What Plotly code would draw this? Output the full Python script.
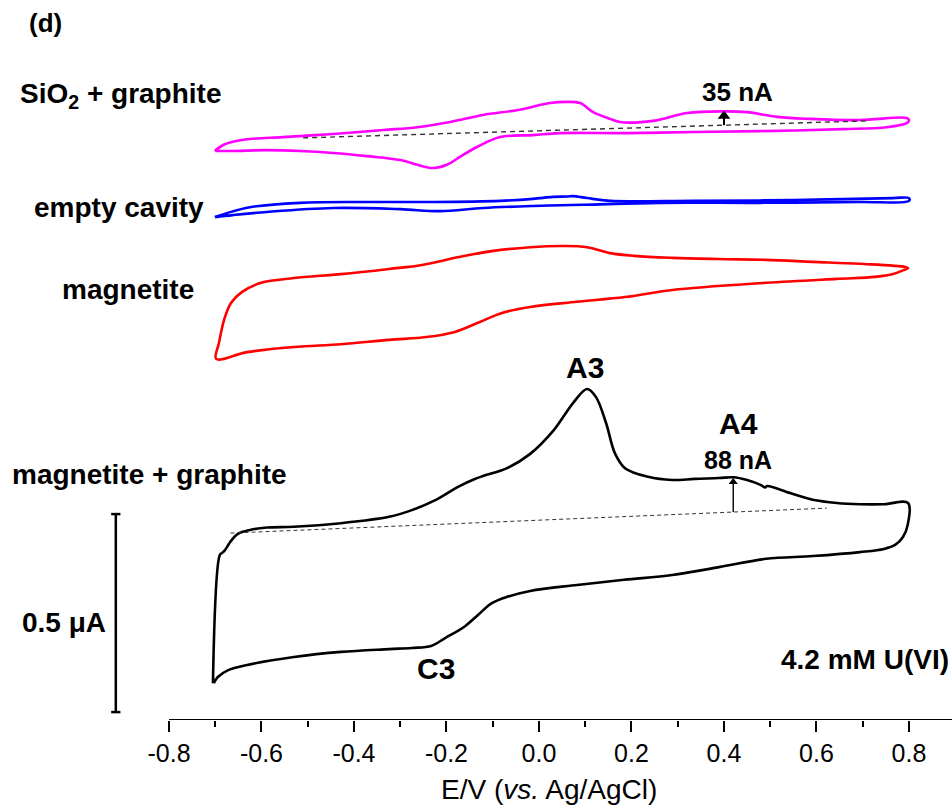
import plotly.graph_objects as go

# Cyclic voltammograms, 4.2 mM U(VI); potentials in V vs Ag/AgCl, currents in uA
# Each loop: forward sweep -0.7 -> 0.8 V, then reverse sweep back to -0.7 V

E_mag_graph = [-0.705, -0.690, -0.685, -0.679, -0.668, -0.651, -0.625, -0.588, -0.530, -0.428,
               -0.324, -0.275, -0.223, -0.173, -0.140, -0.121, -0.069, -0.019, 0.032, 0.074,
               0.104, 0.123, 0.145, 0.164, 0.186, 0.236, 0.288, 0.337, 0.389, 0.420,
               0.450, 0.480, 0.489, 0.493, 0.543, 0.592, 0.644, 0.694, 0.746, 0.798,
               0.797, 0.787, 0.770, 0.746, 0.694, 0.592, 0.491, 0.389, 0.288, 0.184,
               0.082, -0.019, -0.069, -0.102, -0.132, -0.162, -0.203, -0.233, -0.275, -0.324,
               -0.428, -0.530, -0.631, -0.672, -0.695, -0.703]
I_mag_graph = [-0.357, -0.033, -0.028, -0.021, -0.001, 0.020, 0.030, 0.036, 0.038, 0.047,
               0.063, 0.080, 0.106, 0.140, 0.158, 0.166, 0.186, 0.222, 0.282, 0.351,
               0.386, 0.366, 0.300, 0.224, 0.186, 0.164, 0.156, 0.159, 0.161, 0.163,
               0.156, 0.143, 0.137, 0.141, 0.123, 0.106, 0.098, 0.095, 0.095, 0.098,
               0.042, 0.012, -0.008, -0.018, -0.026, -0.036, -0.043, -0.064, -0.084, -0.096,
               -0.109, -0.124, -0.139, -0.155, -0.185, -0.215, -0.243, -0.263, -0.268, -0.271,
               -0.278, -0.291, -0.311, -0.324, -0.342, -0.357]

E_magnetite = [-0.698, -0.692, -0.681, -0.666, -0.642, -0.601, -0.530, -0.428, -0.324, -0.253,
               -0.173, -0.102, -0.019, 0.052, 0.104, 0.154, 0.205, 0.288, 0.389, 0.491,
               0.592, 0.694, 0.792, 0.798,
               0.788, 0.766, 0.727, 0.644, 0.491, 0.288, 0.186, 0.082, -0.019, -0.080,
               -0.132, -0.182, -0.244, -0.324, -0.428, -0.530, -0.631, -0.698]
I_magnetite = [-0.038, 0.002, 0.060, 0.103, 0.131, 0.154, 0.166, 0.176, 0.189, 0.199,
               0.219, 0.234, 0.244, 0.247, 0.244, 0.229, 0.222, 0.217, 0.214, 0.212,
               0.207, 0.202, 0.194, 0.191,
               0.186, 0.176, 0.169, 0.164, 0.154, 0.136, 0.118, 0.106, 0.093, 0.078,
               0.053, 0.030, 0.017, 0.010, -0.001, -0.008, -0.021, -0.038]

E_empty = [-0.701, -0.675, -0.625, -0.517, -0.372, -0.229, -0.084, -0.013, 0.030, 0.061,
           0.074, 0.104, 0.154, 0.333, 0.549, 0.765, 0.800,
           0.800, 0.694, 0.478, 0.262, 0.095, -0.013, -0.121, -0.214, -0.300,
           -0.445, -0.588, -0.662, -0.700]
I_empty = [-0.030, -0.020, -0.005, 0.006, 0.008, 0.008, 0.011, 0.016, 0.021, 0.022,
           0.023, 0.018, 0.011, 0.011, 0.013, 0.018, 0.018,
           0.011, 0.008, 0.006, 0.006, 0.001, -0.002, -0.007, -0.015, -0.010,
           -0.007, -0.017, -0.025, -0.030]

E_sio2 = [-0.701, -0.683, -0.662, -0.625, -0.554, -0.445, -0.337, -0.263, -0.192, -0.121,
          -0.048, 0.024, 0.061, 0.089, 0.117, 0.154, 0.175, 0.247, 0.320, 0.400,
          0.450, 0.515, 0.586, 0.694, 0.796, 0.800,
          0.796, 0.752, 0.657, 0.478, 0.333, 0.190, 0.045, -0.013, -0.084, -0.134,
          -0.171, -0.199, -0.229, -0.263, -0.300, -0.372, -0.445, -0.517, -0.588, -0.662, -0.700]
I_sio2 = [-0.013, 0.002, 0.010, 0.017, 0.022, 0.030, 0.040, 0.047, 0.060, 0.078,
          0.090, 0.108, 0.111, 0.108, 0.085, 0.068, 0.060, 0.063, 0.083, 0.087,
          0.085, 0.073, 0.068, 0.065, 0.070, 0.065,
          0.058, 0.047, 0.042, 0.037, 0.035, 0.032, 0.032, 0.027, 0.022, -0.003,
          -0.028, -0.048, -0.056, -0.048, -0.036, -0.026, -0.018, -0.013, -0.011, -0.013, -0.013]

base_mag_graph_E = [-0.667, 0.622]
base_mag_graph_I = [0.022, 0.085]
base_sio2_E = [-0.510, 0.710]
base_sio2_I = [0.020, 0.063]
peak_mag_graph_E, peak_mag_graph_nA = 0.420, 88
peak_sio2_E, peak_sio2_nA = 0.400, 35

tick_vals = [-0.8, -0.6, -0.4, -0.2, 0.0, 0.2, 0.4, 0.6, 0.8]
tick_text = ["-0.8", "-0.6", "-0.4", "-0.2", "0.0", "0.2", "0.4", "0.6", "0.8"]
minor_vals = [-0.7, -0.5, -0.3, -0.1, 0.1, 0.3, 0.5, 0.7, 0.9]

# vertical stacking of the loops (uA)
OFF_MAG_GRAPH = 0.45
OFF_MAGNETITE = 0.95
OFF_EMPTY = 1.30
OFF_SIO2 = 1.45

FONT = "Arial, Liberation Sans, sans-serif"
X_RANGE = [-1.1654, 0.8930]
Y_RANGE = [0.0, 1.8182]


def shifted(values, off):
    return [v + off for v in values]


def base_at(E_pts, I_pts, e):
    return I_pts[0] + (I_pts[1] - I_pts[0]) * (e - E_pts[0]) / (E_pts[1] - E_pts[0])


fig = go.Figure()

loops = [
    (E_sio2, I_sio2, OFF_SIO2, "#FF00FF"),
    (E_empty, I_empty, OFF_EMPTY, "#0000FF"),
    (E_magnetite, I_magnetite, OFF_MAGNETITE, "#FF0000"),
    (E_mag_graph, I_mag_graph, OFF_MAG_GRAPH, "#000000"),
]
for E, I, off, col in loops:
    fig.add_trace(go.Scatter(
        x=E, y=shifted(I, off), mode="lines",
        line=dict(color=col, width=2.6, shape="spline", smoothing=1.0),
        showlegend=False, hoverinfo="skip"))

# dashed baselines
fig.add_trace(go.Scatter(
    x=base_sio2_E, y=shifted(base_sio2_I, OFF_SIO2), mode="lines",
    line=dict(color="#333333", width=1.4, dash="5px,4px"),
    showlegend=False, hoverinfo="skip"))
fig.add_trace(go.Scatter(
    x=base_mag_graph_E, y=shifted(base_mag_graph_I, OFF_MAG_GRAPH), mode="lines",
    line=dict(color="#333333", width=1.0, dash="4px,3px"),
    showlegend=False, hoverinfo="skip"))


# peak-height arrows: from the baseline up by the stated peak current
def peak_arrow(E_pts, I_pts, off, e, nA, lw, head):
    b = base_at(E_pts, I_pts, e) + off
    top = b + nA / 1000.0
    fig.add_trace(go.Scatter(
        x=[e, e], y=[b, top - 0.012], mode="lines",
        line=dict(color="black", width=lw),
        showlegend=False, hoverinfo="skip"))
    fig.add_trace(go.Scatter(
        x=[e], y=[top - 0.012], mode="markers",
        marker=dict(symbol="triangle-up", size=head, color="black", line=dict(width=0)),
        showlegend=False, hoverinfo="skip"))


peak_arrow(base_mag_graph_E, base_mag_graph_I, OFF_MAG_GRAPH, peak_mag_graph_E, peak_mag_graph_nA, 1.4, 8)
peak_arrow(base_sio2_E, base_sio2_I, OFF_SIO2, peak_sio2_E, peak_sio2_nA, 2.0, 11)

shapes = []
# x axis line
shapes.append(dict(type="line", xref="x", yref="y", x0=-0.8, x1=X_RANGE[1], y0=0, y1=0,
                   line=dict(color="black", width=2)))
# 0.5 uA scale bar
sb_x, sb_y0, sb_len = -0.915, 0.020, 0.5
shapes.append(dict(type="line", xref="x", yref="y", x0=sb_x, x1=sb_x, y0=sb_y0, y1=sb_y0 + sb_len,
                   line=dict(color="black", width=2.5)))
for yy in (sb_y0, sb_y0 + sb_len):
    shapes.append(dict(type="line", xref="x", yref="y", x0=sb_x - 0.010, x1=sb_x + 0.010, y0=yy, y1=yy,
                       line=dict(color="black", width=2.5)))

annotations = []


def label(text, x, y, size=28, bold=True, xanchor="center", yref="y"):
    t = f"<b>{text}</b>" if bold else text
    annotations.append(dict(x=x, y=y, xref="x", yref=yref, text=t, showarrow=False,
                            xanchor=xanchor, yanchor="middle",
                            font=dict(family=FONT, size=size, color="black")))


label("(d)", -1.068, 1.760, size=26)
label("SiO<sub>2</sub> + graphite", -0.903, 1.576)
label("empty cavity", -0.909, 1.295)
label("magnetite", -0.889, 1.086)
label("magnetite + graphite", -0.843, 0.619)
label("0.5 μA", -1.027, 0.245)
label("A3", 0.099, 0.891, size=30)
label("A4", 0.432, 0.750, size=30)
label(f"{peak_mag_graph_nA} nA", 0.430, 0.657, size=25)
label(f"{peak_sio2_nA} nA", 0.430, 1.586, size=26)
label("C3", -0.223, 0.131, size=30)
label("4.2 mM U(VI)", 0.519, 0.152, size=28, xanchor="left")
# axis title, placed below the plotting area
label("E/V (<i>vs.</i> Ag/AgCl)", 0.022, -0.097, size=28, bold=False, yref="paper")

fig.update_layout(
    width=952, height=809,
    margin=dict(l=0, r=0, t=0, b=89, pad=0),
    paper_bgcolor="white", plot_bgcolor="white",
    showlegend=False,
    shapes=shapes, annotations=annotations,
    xaxis=dict(range=X_RANGE, showgrid=False, zeroline=False, showline=False,
               tickmode="array", tickvals=tick_vals, ticktext=tick_text,
               ticks="outside", ticklen=11, tickwidth=2, tickcolor="black",
               minor=dict(tickmode="array", tickvals=minor_vals, ticks="outside",
                          ticklen=6, tickwidth=2, tickcolor="black"),
               tickfont=dict(family=FONT, size=25, color="black")),
    yaxis=dict(range=Y_RANGE, visible=False, showgrid=False, zeroline=False),
)

fig.write_html("out.html")
